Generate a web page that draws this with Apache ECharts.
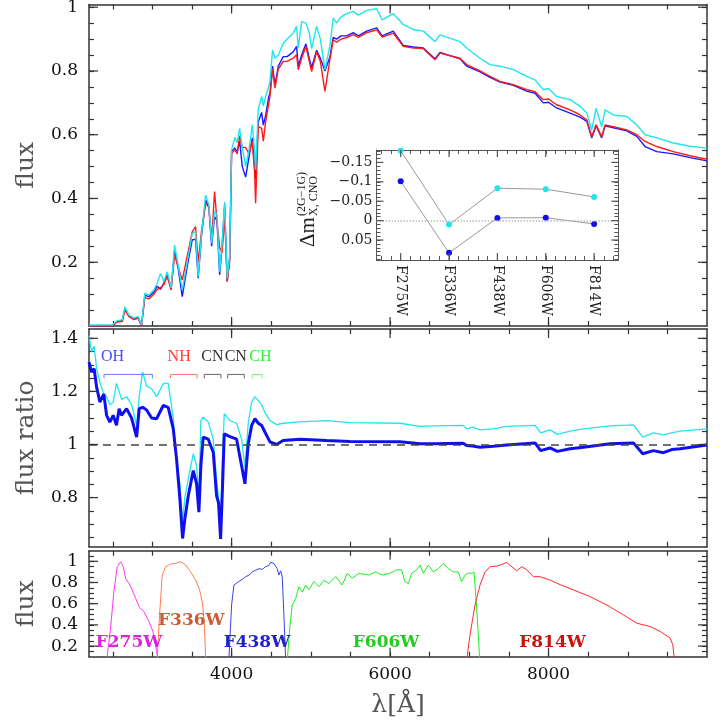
<!DOCTYPE html>
<html>
<head>
<meta charset="utf-8">
<script src="https://cdn.jsdelivr.net/npm/echarts@6/dist/echarts.min.js"></script>
<style>
  html, body { margin: 0; padding: 0; background: #fff; }
  #main { width: 723px; height: 723px; }
</style>
</head>
<body>
<div id="main"></div>
<script>
// top panel: model spectra (1G red, 2G blue, 2G with CNO changes cyan)
var specWave = [2200,2500,2550,2620,2653,2703,2767,2820,2863,2905,
  2956,3019,3061,3103,3145,3187,3237,3280,3326,3377,
  3439,3503,3545,3578,3621,3672,3713,3748,3785,3815,
  3849,3880,3912,3944,3975,4000,4042,4070,4101,4135,
  4177,4219,4261,4290,4303,4336,4379,4400,4429,4470,
  4484,4517,4547,4589,4652,4700,4778,4820,4841,4884,
  4938,4980,5010,5073,5120,5178,5241,5283,5325,5380,
  5452,5535,5600,5704,5831,5900,6040,6166,6293,6420,
  6567,6630,6883,6967,7135,7261,7388,7556,7725,7830,
  7934,8000,8102,8272,8398,8483,8545,8600,8671,8713,
  8819,8987,9114,9218,9366,9575,9785,10000];
var flux1G = [0,0,0.012,0.015,0.05,0.03,0.02,0.025,0,0.09,
  0.085,0.1,0.115,0.12,0.13,0.155,0.113,0.223,0.186,0.144,
  0.218,0.295,0.312,0.2,0.3,0.385,0.372,0.27,0.422,0.33,
  0.246,0.23,0.343,0.14,0.2,0.542,0.553,0.54,0.597,0.56,
  0.56,0.54,0.58,0.48,0.385,0.626,0.62,0.58,0.64,0.70,
  0.72,0.806,0.746,0.806,0.83,0.83,0.84,0.851,0.804,0.84,
  0.877,0.83,0.798,0.86,0.83,0.736,0.837,0.898,0.89,0.9,
  0.905,0.914,0.905,0.92,0.929,0.906,0.919,0.877,0.872,0.87,
  0.835,0.856,0.84,0.82,0.80,0.783,0.767,0.757,0.741,0.735,
  0.71,0.712,0.694,0.678,0.662,0.647,0.594,0.631,0.594,0.631,
  0.625,0.615,0.6,0.579,0.563,0.547,0.534,0.523];
var flux2G = [0,0,0.014,0.017,0.053,0.032,0.022,0.027,0.002,0.097,
  0.092,0.107,0.125,0.115,0.135,0.16,0.12,0.235,0.18,0.092,
  0.186,0.27,0.272,0.15,0.285,0.395,0.372,0.25,0.343,0.33,
  0.16,0.25,0.38,0.14,0.21,0.548,0.558,0.545,0.58,0.5,
  0.467,0.53,0.59,0.5,0.46,0.64,0.67,0.63,0.66,0.72,
  0.73,0.815,0.755,0.815,0.845,0.845,0.86,0.877,0.815,0.85,
  0.885,0.84,0.81,0.865,0.84,0.8,0.845,0.905,0.9,0.91,
  0.91,0.92,0.91,0.925,0.935,0.91,0.925,0.88,0.875,0.872,
  0.838,0.858,0.838,0.815,0.797,0.78,0.765,0.755,0.737,0.73,
  0.70,0.702,0.684,0.668,0.655,0.642,0.59,0.628,0.59,0.628,
  0.622,0.612,0.595,0.563,0.547,0.54,0.528,0.518];
var flux2GCNO = [0.003,0.004,0.016,0.02,0.06,0.035,0.025,0.03,0.004,0.103,
  0.097,0.113,0.134,0.165,0.14,0.17,0.12,0.254,0.19,0.113,
  0.2,0.29,0.296,0.155,0.29,0.411,0.38,0.26,0.359,0.35,
  0.17,0.26,0.39,0.15,0.22,0.553,0.592,0.575,0.62,0.56,
  0.5,0.553,0.631,0.55,0.49,0.68,0.72,0.69,0.72,0.752,
  0.768,0.866,0.84,0.85,0.887,0.9,0.919,0.94,0.872,0.955,
  0.95,0.92,0.87,0.94,0.9,0.804,0.88,0.966,0.95,0.97,
  0.98,0.987,0.975,0.99,0.995,0.96,0.98,0.946,0.93,0.925,
  0.892,0.913,0.892,0.872,0.84,0.82,0.815,0.804,0.783,0.772,
  0.741,0.745,0.72,0.71,0.689,0.668,0.615,0.683,0.625,0.678,
  0.662,0.657,0.631,0.6,0.59,0.574,0.564,0.558];

// middle panel: flux ratios
var ratioWave = [2200,2232,2265,2296,2337,2387,2422,2463,2505,2547,
  2580,2611,2674,2737,2801,2834,2876,2927,2990,3053,
  3137,3200,3221,3263,3305,3347,3381,3410,3453,3516,
  3558,3587,3612,3641,3705,3768,3810,3835,3861,3885,
  3907,3979,4063,4126,4168,4210,4253,4294,4336,4379,
  4420,4484,4568,4650,4862,5200,5494,6125,6377,6546,
  6921,6967,7040,7135,7303,7472,7830,7900,8019,8111,
  8272,8440,8777,9071,9189,9324,9450,9555,9661,10000];
var ratio2G = [1.31,1.273,1.285,1.216,1.16,1.19,1.11,1.084,1.11,1.072,
  1.135,1.11,1.135,1.1,1.028,1.135,1.14,1.13,1.1,1.097,
  1.147,1.14,1.135,1.06,0.946,0.795,0.646,0.72,0.807,0.902,
  0.852,0.745,0.92,1.028,1.02,0.971,0.807,0.78,0.644,0.84,
  1.04,1.03,1.02,0.92,0.852,1.003,1.072,1.097,1.08,1.072,
  1.047,1.01,1.0,1.015,1.02,1.015,1.011,1.01,1.003,1.003,
  1.005,0.996,0.994,0.99,0.993,0.998,1.006,0.977,0.987,0.974,
  0.984,0.99,1.003,1.006,0.965,0.977,0.969,0.981,0.984,0.998];
var ratio2GCNO = [1.41,1.35,1.37,1.286,1.235,1.19,1.18,1.15,1.16,1.23,
  1.2,1.17,1.18,1.15,1.072,1.18,1.273,1.22,1.21,1.18,
  1.23,1.23,1.23,1.1,0.94,0.852,0.707,0.8,0.87,0.965,
  0.92,0.795,1.09,1.103,1.085,1.02,0.87,0.8,0.696,0.95,
  1.116,1.09,1.08,1.02,0.915,1.08,1.16,1.18,1.165,1.15,
  1.12,1.09,1.075,1.08,1.085,1.09,1.082,1.08,1.068,1.07,
  1.072,1.059,1.065,1.055,1.059,1.068,1.072,1.044,1.055,1.038,
  1.05,1.059,1.07,1.074,1.028,1.044,1.036,1.044,1.05,1.059];

// molecular bands marked in the middle panel
var bandNames = ['OH', 'NH', 'CN', 'CN', 'CH'];
var bandStart = [2390, 3230, 3655, 3950, 4260];
var bandEnd = [3000, 3565, 3865, 4160, 4385];

// bottom panel: filter throughputs
var f275Wave = [2413,2472,2514,2556,2598,2632,2662,2703,2745,2788,2838,2893,2956,3006,3040,3088];
var f275Thr = [0,0.37,0.714,0.949,0.996,0.95,0.839,0.792,0.73,0.651,0.564,0.526,0.432,0.339,0.213,0];
var f336Wave = [3054,3091,3124,3167,3230,3293,3356,3419,3482,3545,3596,3629,3654,3677];
var f336Thr = [0,0.494,0.87,0.949,0.973,0.98,0.996,0.965,0.902,0.823,0.73,0.62,0.432,0];
var f438Wave = [3960,4000,4029,4092,4135,4177,4220,4261,4300,4345,4390,4429,4470,4492,4534,4576,4597,4619,4639,4660,4686];
var f438Thr = [0,0.588,0.776,0.81,0.83,0.855,0.87,0.9,0.915,0.93,0.925,0.949,0.96,0.99,0.98,0.93,0.87,0.91,0.855,0.494,0];
var f606Wave = [4695,4736,4765,4808,4850,4892,4934,4976,5039,5102,5165,5228,5313,5396,5460,5523,5607,5733,5818,5901,
  5998,6083,6146,6188,6230,6272,6336,6378,6420,6482,6546,6609,6672,6735,6798,6861,6903,6946,6988,7030,7059,7072,7093,7114,7135];
var f606Thr = [0,0.385,0.588,0.65,0.76,0.71,0.775,0.73,0.81,0.76,0.82,0.79,0.855,0.776,0.886,0.84,0.886,0.87,0.9,0.87,
  0.886,0.92,0.92,0.808,0.79,0.886,0.92,0.965,0.886,0.965,0.9,0.93,0.98,0.93,0.9,0.9,0.808,0.87,0.89,0.886,0.9,0.776,0.557,0.307,0];
var f814Wave = [6955,7009,7072,7135,7198,7261,7345,7409,7472,7535,7598,7661,7725,7808,7893,8019,8145,8313,8524,8735,8945,9114,9282,9408,9534,9568,9600];
var f814Thr = [0,0.307,0.588,0.776,0.9,0.949,0.955,0.97,0.99,0.949,0.91,0.949,0.92,0.855,0.855,0.823,0.78,0.73,0.667,0.588,0.494,0.416,0.385,0.339,0.276,0.213,0];

// inset: magnitude differences per filter
var filterNames = ['F275W', 'F336W', 'F438W', 'F606W', 'F814W'];
var dm2G = [-0.1015, 0.083, -0.007, -0.0075, 0.0085];
var dm2GCNO = [-0.18, 0.0103, -0.0835, -0.081, -0.061];

// tick labels
var xLabelValues = [4000, 6000, 8000];
var fluxLabelValues = [0.2, 0.4, 0.6, 0.8, 1];
var ratioLabelValues = [0.8, 1, 1.2, 1.4];
var thrLabelValues = [0.2, 0.4, 0.6, 0.8, 1];
var dmLabelValues = [-0.15, -0.1, -0.05, 0, 0.05];

var AXIS_C = '#333';
var SERIF = 'DejaVu Serif';

function steps(a, b, s) {
  var out = [];
  for (var v = a; v <= b + 1e-9; v += s) out.push(Math.round(v * 1000) / 1000);
  return out;
}
function zip(xs, ys) {
  return xs.map(function (x, i) { return [x, ys[i]]; });
}
function seg(x1, y1, x2, y2, c) {
  return {type: 'line', shape: {x1: x1, y1: y1, x2: x2, y2: y2}, style: {stroke: c, lineWidth: 1.2}};
}

var XR = [2200, 10000];
var yRanges = [[0, 1.0085], [0.615, 1.435], [0.1, 1.1]];
var yMinor = [steps(0.05, 1.0, 0.05), steps(0.65, 1.4, 0.05), steps(0.15, 1.05, 0.05)];
var yLabels = [fluxLabelValues, ratioLabelValues, thrLabelValues];
var yNames = ['flux', 'flux ratio', 'flux'];
var xMinor = steps(2500, 9500, 500);

var grids = [
  {left: 89, right: 16, top: 4.5, height: 321.5},
  {left: 89, right: 16, top: 329, height: 217.7},
  {left: 89, right: 16, top: 550.7, height: 106},
  {left: 376.5, width: 241.8, top: 150, height: 110}
];
grids.forEach(function (g) { g.outerBoundsMode = 'none'; g.containLabel = false; });

var xAxes = [], yAxes = [];
for (var g = 0; g < 3; g++) {
  ['bottom', 'top'].forEach(function (pos) {
    var lab = g === 2 && pos === 'bottom';
    xAxes.push({
      type: 'value', gridIndex: g, position: pos, min: XR[0], max: XR[1],
      axisLine: {show: true, onZero: false, lineStyle: {color: AXIS_C, width: 1.5}},
      axisTick: {show: true, inside: true, length: 5, customValues: xMinor, lineStyle: {color: AXIS_C, width: 1.2}},
      axisLabel: {show: lab, customValues: xLabelValues, margin: 9, color: '#111', fontFamily: SERIF, fontSize: 17,
        formatter: function (v) { return String(v); }},
      splitLine: {show: false},
      name: lab ? 'λ[Å]' : '', nameLocation: 'middle', nameGap: 36,
      nameTextStyle: {fontFamily: SERIF, fontSize: 25, color: '#555'}
    });
  });
  ['left', 'right'].forEach(function (pos) {
    var lab = pos === 'left';
    yAxes.push({
      type: 'value', gridIndex: g, position: pos, min: yRanges[g][0], max: yRanges[g][1],
      axisLine: {show: true, onZero: false, lineStyle: {color: AXIS_C, width: 1.5}},
      axisTick: {show: true, inside: true, length: 5, customValues: yMinor[g], lineStyle: {color: AXIS_C, width: 1.2}},
      axisLabel: {show: lab, customValues: yLabels[g], margin: 11, color: '#111', fontFamily: SERIF, fontSize: 17},
      splitLine: {show: false},
      name: lab ? yNames[g] : '', nameLocation: 'middle', nameGap: 50, nameRotate: 90,
      nameTextStyle: {fontFamily: SERIF, fontSize: 25, color: '#555'}
    });
  });
}
// inset axes
var insetXR = [0.5, 5.5], insetYR = [-0.182, 0.1015];
['bottom', 'top'].forEach(function (pos) {
  xAxes.push({
    type: 'value', gridIndex: 3, position: pos, min: insetXR[0], max: insetXR[1],
    axisLine: {show: true, onZero: false, lineStyle: {color: '#555', width: 1}},
    axisTick: {show: true, inside: true, length: 4, customValues: steps(0.6, 5.4, 0.2), lineStyle: {color: '#555', width: 1}},
    axisLabel: {show: pos === 'bottom', customValues: [1, 2, 3, 4, 5], rotate: -90, margin: 5,
      formatter: function (v) { return filterNames[Math.round(v) - 1]; },
      color: '#222', fontFamily: SERIF, fontSize: 14},
    splitLine: {show: false}
  });
});
['left', 'right'].forEach(function (pos) {
  yAxes.push({
    type: 'value', gridIndex: 3, position: pos, min: insetYR[0], max: insetYR[1], inverse: true,
    axisLine: {show: true, onZero: false, lineStyle: {color: '#555', width: 1}},
    axisTick: {show: true, inside: true, length: 4, customValues: steps(-0.18, 0.1, 0.01), lineStyle: {color: '#555', width: 1}},
    axisLabel: {show: pos === 'left', customValues: dmLabelValues, margin: 4,
      formatter: function (v) { return String(v).replace('-', '\u2212'); },
      color: '#222', fontFamily: SERIF, fontSize: 14},
    splitLine: {show: false}
  });
});

function majorTicks(g, xs, ys, xr, yr, len, color) {
  var data = xs.map(function (v) { return [v, 0]; }).concat(ys.map(function (v) { return [v, 1]; }));
  return {
    type: 'custom', xAxisIndex: 2 * g, yAxisIndex: 2 * g, silent: true, clip: false, z: 10,
    data: data,
    renderItem: function (params, api) {
      var v = api.value(0), a, b, lo, hi;
      if (api.value(1) === 0) {
        a = api.coord([v, yr[0]]); b = api.coord([v, yr[1]]);
        lo = a[1] > b[1] ? a : b; hi = a[1] > b[1] ? b : a;
        return {type: 'group', children: [seg(lo[0], lo[1], lo[0], lo[1] - len, color), seg(hi[0], hi[1], hi[0], hi[1] + len, color)]};
      }
      a = api.coord([xr[0], v]); b = api.coord([xr[1], v]);
      return {type: 'group', children: [seg(a[0], a[1], a[0] + len, a[1], color), seg(b[0], b[1], b[0] - len, b[1], color)]};
    }
  };
}

function specLine(g, xs, ys, color, width, z) {
  return {
    type: 'line', xAxisIndex: 2 * g, yAxisIndex: 2 * g, data: zip(xs, ys),
    showSymbol: false, symbol: 'none', silent: true, z: z || 2,
    lineStyle: {color: color, width: width}
  };
}

// band brackets + labels (middle panel)
var bandText = ['#4747ff', '#ff3a3a', '#333', '#333', '#33ee33'];
var bandLine = ['#7373ff', '#ff7070', '#666', '#666', '#77ee77'];
var BRACKET_Y = 1.264, BAND_LABEL_Y = 1.33;

// where the filter names sit in the bottom panel
var filterLabelAt = [[2705, 0.232], [3492, 0.44], [4320, 0.232], [5950, 0.232], [8050, 0.232]];
var filterTextColors = ['#dd22dd', '#cc5a33', '#2222cc', '#22cc22', '#cc1111'];

var series = [
  specLine(0, specWave, flux2G, '#1a1aff', 1.4),
  specLine(0, specWave, flux1G, '#ff1a1a', 1.4),
  specLine(0, specWave, flux2GCNO, '#1fe6ee', 1.4),
  {
    type: 'line', xAxisIndex: 2, yAxisIndex: 2, data: zip(ratioWave, ratio2G),
    showSymbol: false, symbol: 'none', silent: true, z: 3,
    lineStyle: {color: '#1010ee', width: 3},
    markLine: {silent: true, symbol: 'none', label: {show: false},
      lineStyle: {color: '#444', type: [8, 6], width: 1.5}, data: [{yAxis: 1}]}
  },
  specLine(1, ratioWave, ratio2GCNO, '#1fe6ee', 1.3),
  {
    type: 'custom', xAxisIndex: 2, yAxisIndex: 2, silent: true, clip: false, z: 6,
    data: bandNames.map(function (n, i) { return [bandStart[i], bandEnd[i], i]; }),
    renderItem: function (params, api) {
      var i = api.value(2);
      var p1 = api.coord([api.value(0), BRACKET_Y]);
      var p2 = api.coord([api.value(1), BRACKET_Y]);
      var t = api.coord([api.value(0), BAND_LABEL_Y]);
      return {type: 'group', children: [
        {type: 'polyline', shape: {points: [[p1[0], p1[1] + 4], [p1[0], p1[1]], [p2[0], p2[1]], [p2[0], p2[1] + 4]]},
          style: {stroke: bandLine[i], fill: null, lineWidth: 1}},
        {type: 'text', x: t[0] - 3, y: t[1], style: {text: bandNames[i], fill: bandText[i],
          fontSize: 16, fontFamily: 'Liberation Serif', textAlign: 'left', textVerticalAlign: 'middle'}}
      ]};
    }
  },
  specLine(2, f275Wave, f275Thr, '#ff33ff', 1),
  specLine(2, f336Wave, f336Thr, '#ff7a4d', 1),
  specLine(2, f438Wave, f438Thr, '#3344ee', 1),
  specLine(2, f606Wave, f606Thr, '#22ee22', 1),
  specLine(2, f814Wave, f814Thr, '#ff2a2a', 1),
  {
    type: 'custom', xAxisIndex: 4, yAxisIndex: 4, silent: true, clip: false, z: 6,
    data: filterNames.map(function (n, i) { return [filterLabelAt[i][0], filterLabelAt[i][1], i]; }),
    renderItem: function (params, api) {
      var p = api.coord([api.value(0), api.value(1)]), i = api.value(2);
      return {type: 'text', x: p[0], y: p[1], style: {text: filterNames[i], fill: filterTextColors[i],
        fontSize: 17, fontWeight: 'bold', fontFamily: SERIF, textAlign: 'center', textVerticalAlign: 'middle'}};
    }
  },
  {
    type: 'line', xAxisIndex: 6, yAxisIndex: 6, silent: true, z: 4,
    data: dm2G.map(function (v, i) { return [i + 1, v]; }),
    symbol: 'circle', symbolSize: 6, showSymbol: true,
    itemStyle: {color: '#1010ee'}, lineStyle: {color: '#999', width: 1},
    markLine: {silent: true, symbol: 'none', label: {show: false},
      lineStyle: {color: '#bbb', type: 'dotted', width: 1.5}, data: [{yAxis: 0}]}
  },
  {
    type: 'line', xAxisIndex: 6, yAxisIndex: 6, silent: true, z: 4,
    data: dm2GCNO.map(function (v, i) { return [i + 1, v]; }),
    symbol: 'circle', symbolSize: 6, showSymbol: true,
    itemStyle: {color: '#1fe6ee'}, lineStyle: {color: '#999', width: 1}
  },
  majorTicks(0, xLabelValues, fluxLabelValues, XR, yRanges[0], 9, AXIS_C),
  majorTicks(1, xLabelValues, ratioLabelValues, XR, yRanges[1], 9, AXIS_C),
  majorTicks(2, xLabelValues, thrLabelValues, XR, yRanges[2], 9, AXIS_C),
  majorTicks(3, [1, 2, 3, 4, 5], dmLabelValues, insetXR, insetYR, 7, '#555')
];

var myChart = echarts.init(document.getElementById('main'), null, {renderer: 'canvas'});
var option = {
  animation: false,
  backgroundColor: '#fff',
  textStyle: {fontFamily: SERIF},
  grid: grids,
  xAxis: xAxes,
  yAxis: yAxes,
  series: series,
  graphic: [{
    type: 'group', x: 308, y: 247, rotation: Math.PI / 2, silent: true,
    children: [
      {type: 'text', x: 0, y: 0, style: {text: 'Δm', fontSize: 21, fontFamily: 'Liberation Serif', fill: '#222', textVerticalAlign: 'middle'}},
      {type: 'text', x: 31, y: -6, style: {text: '(2G\u22121G)', fontSize: 12, fontFamily: 'Liberation Serif', fill: '#222', textVerticalAlign: 'middle'}},
      {type: 'text', x: 31, y: 6, style: {text: 'X, CNO', fontSize: 12, fontFamily: 'Liberation Serif', fill: '#222', textVerticalAlign: 'middle'}}
    ]
  }]
};
myChart.setOption(option);
</script>
</body>
</html>
